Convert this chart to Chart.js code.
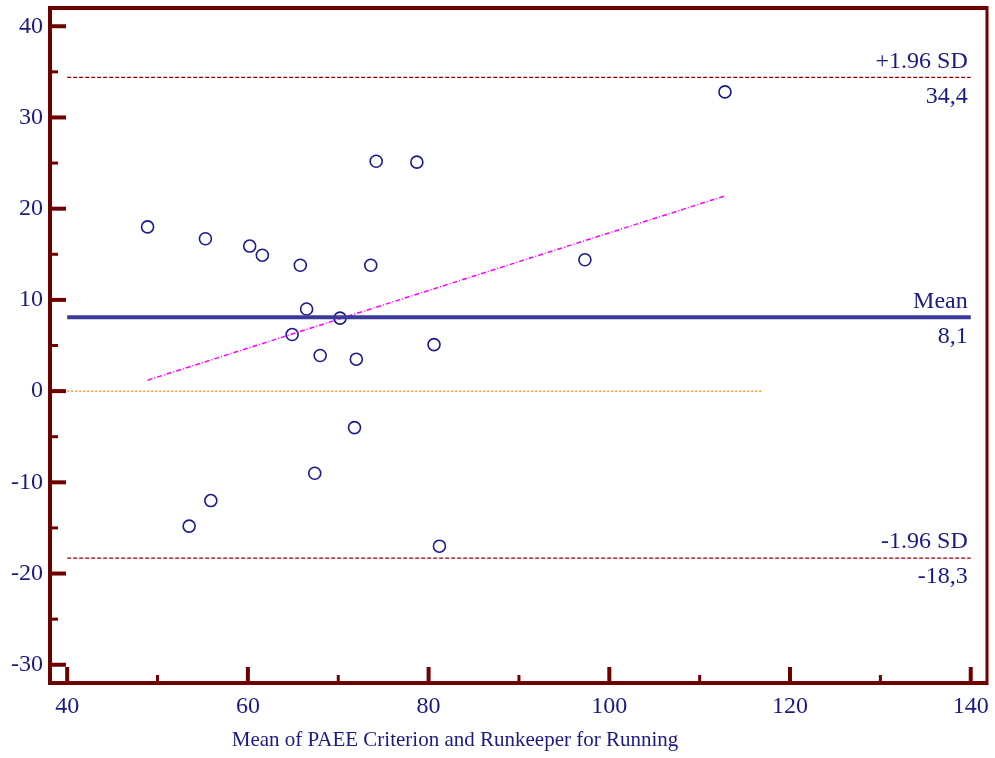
<!DOCTYPE html>
<html>
<head>
<meta charset="utf-8">
<script src="https://cdn.jsdelivr.net/npm/chart.js@4/dist/chart.umd.min.js"></script>
<style>
  html, body { margin: 0; padding: 0; background: #fff; }
  #wrap { width: 995px; height: 758px; }
</style>
</head>
<body>
<div id="wrap"><canvas id="myChart"></canvas></div>
<script>
// Bland-Altman data
var meanX = [48.9, 55.3, 60.2, 61.6, 65.8, 73.6, 74.2, 78.7, 66.5, 70.2, 64.9, 68.0, 72.0, 80.6, 97.3, 112.8, 71.8, 67.4, 55.9, 53.5, 81.2];
var diffY = [18.0, 16.7, 15.9, 14.9, 13.8, 13.8, 25.2, 25.1, 9.0, 8.0, 6.2, 3.9, 3.5, 5.1, 14.4, 32.8, -4.0, -9.0, -12.0, -14.8, -17.0];

var meanDiff = 8.1;
var upperSD = 34.4;
var lowerSD = -18.3;
var limitX = [40, 140];
var zeroX = [40, 117];
var regX = [48.9, 112.8];
var regY = [1.2, 21.4];

var xTicks = [40, 60, 80, 100, 120, 140];
var yTicks = [-30, -20, -10, 0, 10, 20, 30, 40];
var xTitle = 'Mean of PAEE Criterion and Runkeeper for Running';

var navy = '#1a1a80';
var maroon = '#6e0000';
var font = 'Liberation Serif';

function toPoints(xs, ys){
    var pts = [];
    for (var i in xs) {
        pts.push({x: xs[i], y: ys[i]});
    }
    return pts;
}

function hline(xs, v){
    return [{x: xs[0], y: v}, {x: xs[1], y: v}];
}

// frame, inward ticks, axis title and the labels next to the limit lines
var framePlugin = {
    id: 'frame',
    afterDatasetsDraw: function(chart){
        var ctx = chart.ctx;
        var a = chart.chartArea;
        var xs = chart.scales.x;
        var ys = chart.scales.y;
        ctx.save();
        ctx.strokeStyle = maroon;
        ctx.lineCap = 'butt';

        // y ticks, major every 10, minor every 5
        for (var v = -30; v <= 40; v += 5) {
            var py = ys.getPixelForValue(v);
            var major = (v % 10 === 0);
            ctx.lineWidth = major ? 4 : 3;
            ctx.beginPath();
            ctx.moveTo(a.left, py);
            ctx.lineTo(a.left + (major ? 16 : 8), py);
            ctx.stroke();
        }
        // x ticks, major every 20, minor every 10
        for (var u = 40; u <= 140; u += 10) {
            var px = xs.getPixelForValue(u);
            var maj = (u % 20 === 0);
            ctx.lineWidth = maj ? 4 : 3;
            ctx.beginPath();
            ctx.moveTo(px, a.bottom);
            ctx.lineTo(px, a.bottom - (maj ? 16 : 8));
            ctx.stroke();
        }

        // frame
        ctx.lineWidth = 4;
        ctx.beginPath();
        ctx.moveTo(a.right, a.top);
        ctx.lineTo(a.left, a.top);
        ctx.lineTo(a.left, a.bottom);
        ctx.lineTo(a.right, a.bottom);
        ctx.stroke();
        ctx.lineWidth = 3;
        ctx.beginPath();
        ctx.moveTo(a.right, a.top - 2);
        ctx.lineTo(a.right, a.bottom + 2);
        ctx.stroke();

        // labels of the limit lines
        ctx.fillStyle = navy;
        ctx.font = '24px "' + font + '"';
        ctx.textAlign = 'right';
        ctx.textBaseline = 'middle';
        var tx = xs.getPixelForValue(limitX[1]) - 3;
        var labels = [['+1.96 SD', upperSD], ['Mean', meanDiff], ['-1.96 SD', lowerSD]];
        for (var k in labels) {
            var ly = ys.getPixelForValue(labels[k][1]);
            ctx.fillText(labels[k][0], tx, ly - 16);
            ctx.fillText(labels[k][1].toFixed(1).replace('.', ','), tx, ly + 19);
        }

        // axis title, sits left of the plot centre in the original
        ctx.font = '21px "' + font + '"';
        ctx.textAlign = 'center';
        ctx.fillText(xTitle, 455, 740);
        ctx.restore();
    }
};

var ctx = document.getElementById('myChart').getContext('2d');
var chart = new Chart(ctx, {
    type: 'scatter',
    data: {
        datasets: [{
            label: 'zero',
            data: hline(zeroX, 0),
            showLine: true,
            borderColor: '#ff8000',
            borderWidth: 1.3,
            borderDash: [2, 2],
            pointRadius: 0
        }, {
            label: 'upper',
            data: hline(limitX, upperSD),
            showLine: true,
            borderColor: '#990000',
            borderWidth: 1.2,
            borderDash: [4, 2],
            pointRadius: 0
        }, {
            label: 'lower',
            data: hline(limitX, lowerSD),
            showLine: true,
            borderColor: '#990000',
            borderWidth: 1.2,
            borderDash: [4, 2],
            pointRadius: 0
        }, {
            label: 'mean',
            data: hline(limitX, meanDiff),
            showLine: true,
            borderColor: '#3a3a98',
            borderWidth: 4,
            pointRadius: 0
        }, {
            label: 'regression',
            data: toPoints(regX, regY),
            showLine: true,
            borderColor: '#ff00ff',
            borderWidth: 1.5,
            borderDash: [5, 2, 1, 2],
            pointRadius: 0
        }, {
            label: 'points',
            data: toPoints(meanX, diffY),
            showLine: false,
            pointRadius: 6,
            pointBorderWidth: 1.6,
            pointBorderColor: '#1a1a8c',
            pointBackgroundColor: 'rgba(255,255,255,0)'
        }]
    },
    options: {
        responsive: true,
        maintainAspectRatio: false,
        animation: false,
        layout: { padding: { top: 8, right: 8, left: 0, bottom: 0 } },
        plugins: {
            legend: { display: false },
            tooltip: { enabled: false }
        },
        scales: {
            x: {
                type: 'linear',
                min: 38.1,
                max: 141.8,
                grid: { display: false, drawTicks: false },
                border: { display: false },
                afterFit: function(scale){
                    scale.height = 75;
                    scale.paddingLeft = 0;
                    scale.paddingRight = 0;
                },
                afterBuildTicks: function(scale){
                    scale.ticks = xTicks.map(function(v){ return {value: v}; });
                },
                ticks: {
                    color: navy,
                    font: { family: font, size: 24 },
                    padding: 9,
                    maxRotation: 0
                }
            },
            y: {
                type: 'linear',
                min: -32,
                max: 42,
                grid: { display: false, drawTicks: false },
                border: { display: false },
                afterFit: function(scale){
                    scale.width = 50;
                    scale.paddingTop = 0;
                    scale.paddingBottom = 0;
                },
                afterBuildTicks: function(scale){
                    scale.ticks = yTicks.map(function(v){ return {value: v}; });
                },
                ticks: {
                    color: navy,
                    font: { family: font, size: 24 },
                    padding: 7
                }
            }
        }
    },
    plugins: [framePlugin]
});
</script>
</body>
</html>
